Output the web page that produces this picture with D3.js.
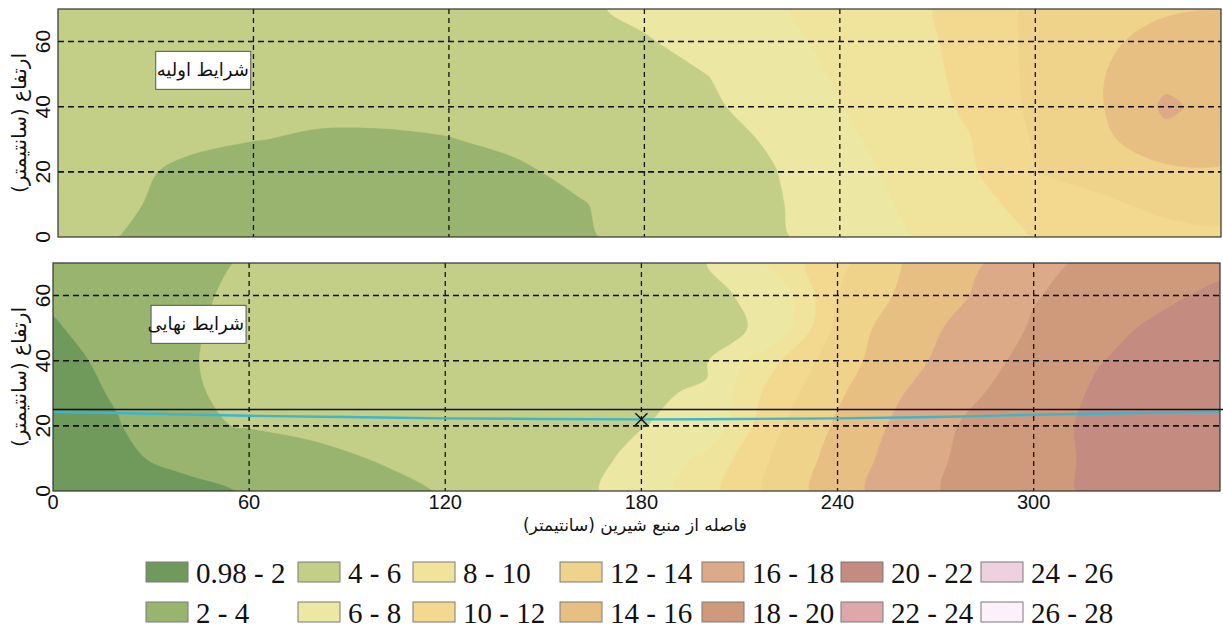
<!DOCTYPE html>
<html>
<head>
<meta charset="utf-8">
<script src="https://cdn.jsdelivr.net/npm/d3@7"></script>
<style>
body { margin: 0; background: #fff; }
</style>
</head>
<body>
<svg id="chart" width="1223" height="632"></svg>
<script>
var xTicks = [0, 60, 120, 180, 240, 300];
var yTicks = [0, 20, 40, 60];
var gridXs = [0, 20, 40, 60, 80, 100, 120, 140, 160, 180, 200, 220, 240, 260, 280, 300, 320, 340, 360];
var gridYs = [0, 10, 20, 30, 40, 50, 60, 70];

var levels = [0.98, 2, 4, 6, 8, 10, 12, 14, 16, 18, 20, 22, 24, 26, 28];
var levelLabels = ["0.98 - 2", "2 - 4", "4 - 6", "6 - 8", "8 - 10", "10 - 12", "12 - 14",
                   "14 - 16", "16 - 18", "18 - 20", "20 - 22", "22 - 24", "24 - 26", "26 - 28"];
var levelColors = ["#6f9a5c", "#98b46f", "#c3cf87", "#ece7a2", "#f0e49c", "#f2d98f", "#f0d38a",
                   "#e8bf82", "#dcaa86", "#cf9a7b", "#c48b80", "#dea8ab", "#eed0de", "#fcf0fa"];

// rows go from height 0 (first) to height 70 (last)
var initialField = [
	[4.6, 3.95, 3.3, 3.0, 2.9, 2.9, 3.0, 3.3, 3.8, 4.46, 5.11, 5.77, 6.74, 7.89, 9.0, 10.1, 10.8, 11.3, 11.5],
	[4.7, 4.25, 3.4, 3.0, 2.8, 2.8, 2.9, 3.3, 3.9, 4.57, 5.2, 5.83, 6.93, 8.2, 9.44, 10.58, 11.6, 12.5, 12.9],
	[4.8, 4.4, 3.65, 3.1, 2.8, 2.7, 2.9, 3.75, 4.35, 4.88, 5.41, 5.94, 7.22, 8.51, 9.71, 11.95, 12.8, 13.5, 13.7],
	[4.9, 4.7, 4.35, 4.05, 3.8, 3.8, 3.95, 4.3, 4.65, 5.0, 5.4, 6.22, 7.6, 8.8, 9.94, 12.2, 13.5, 15.5, 14.9],
	[5.0, 4.9, 4.7, 4.55, 4.4, 4.4, 4.5, 4.8, 5.1, 5.4, 5.75, 6.7, 7.94, 9.04, 10.3, 12.43, 13.85, 16.3, 15.2],
	[5.1, 5.05, 4.95, 4.85, 4.8, 4.8, 4.9, 5.1, 5.35, 5.6, 6.02, 7.13, 8.22, 9.2, 10.47, 12.48, 13.86, 15.5, 15.3],
	[5.2, 5.15, 5.1, 5.05, 5.0, 5.0, 5.1, 5.3, 5.55, 5.85, 6.63, 7.54, 8.43, 9.33, 10.59, 12.47, 13.65, 14.6, 14.8],
	[5.3, 5.25, 5.2, 5.15, 5.1, 5.1, 5.2, 5.4, 5.7, 6.39, 7.1, 7.82, 8.61, 9.43, 10.71, 12.4, 13.2, 13.8, 13.9]
];

var finalField = [
	[1.0, 1.3, 1.6, 2.1, 2.77, 3.44, 4.13, 4.84, 5.56, 6.78, 9.27, 12.52, 15.1, 17.2, 18.56, 19.44, 20.3, 20.8, 21.1],
	[1.2, 1.75, 2.35, 2.94, 3.54, 4.11, 4.6, 5.09, 5.58, 6.29, 8.53, 12.12, 14.78, 16.89, 18.46, 19.42, 20.3, 20.8, 21.1],
	[1.2, 1.88, 3.76, 4.09, 4.4, 4.71, 5.02, 5.33, 5.64, 5.96, 6.4, 11.49, 14.29, 16.54, 18.27, 19.33, 20.4, 20.9, 21.2],
	[1.0, 2.24, 3.9, 4.18, 4.46, 4.74, 5.01, 5.29, 5.57, 5.9, 6.08, 10.77, 13.71, 15.96, 17.66, 19.02, 20.25, 20.8, 21.2],
	[1.35, 2.53, 3.94, 4.19, 4.44, 4.7, 4.95, 5.21, 5.46, 5.72, 5.9, 9.5, 13.16, 15.3, 17.09, 18.62, 19.94, 20.6, 21.0],
	[1.84, 2.77, 3.92, 4.16, 4.4, 4.64, 4.88, 5.12, 5.37, 5.61, 5.9, 6.06, 12.59, 15.23, 16.48, 18.21, 19.46, 20.4, 20.8],
	[2.25, 2.95, 3.88, 4.13, 4.38, 4.63, 4.89, 5.14, 5.39, 5.64, 5.9, 6.14, 11.98, 14.38, 15.96, 17.87, 18.81, 19.68, 20.5],
	[2.6, 3.0, 3.79, 4.07, 4.34, 4.61, 4.89, 5.16, 5.43, 5.71, 5.98, 8.52, 11.43, 14.02, 15.53, 17.41, 18.5, 19.1, 19.5]
];

var surfaceX = [0, 30, 60, 90, 120, 150, 180, 210, 240, 270, 300, 330, 357];
var surfaceY = [24.3, 23.7, 23.1, 22.7, 22.3, 22.1, 22.0, 22.1, 22.3, 22.7, 23.4, 23.9, 24.4];
var refHeight = 25;
var markerPoint = [180, 22];

var panelTitles = ["شرایط اولیه", "شرایط نهایی"];
var xTitle = "فاصله از منبع شیرین (سانتیمتر)";
var yTitle = "ارتفاع (سانتیمتر)";

var sansFont = "'Liberation Sans', Arial, sans-serif";
var serifFont = "'Liberation Serif', 'Times New Roman', 'DejaVu Serif', serif";
var arabicFont = "'DejaVu Sans', sans-serif";

var svg = d3.select("#chart");

var panels = [
	{ field: initialField, title: panelTitles[0], left: 58, right: 1221, top: 9, bottom: 237, surface: false },
	{ field: finalField, title: panelTitles[1], left: 53, right: 1220, top: 263, bottom: 491, surface: true }
];

var contours = d3.contours()
				.size([gridXs.length, gridYs.length])
				.thresholds(levels.slice(0, -1));

var stepX = gridXs[1] - gridXs[0];
var stepY = gridYs[1] - gridYs[0];

var ringLine = d3.line().curve(d3.curveCatmullRomClosed.alpha(0.5));

panels.forEach(function(p, pi) {

	var xs = d3.scaleLinear().domain([0, 357]).range([p.left, p.right]);
	var ys = d3.scaleLinear().domain([0, 70]).range([p.bottom, p.top]);

	function gridToPx(pt) {
		return [xs(gridXs[0] + (pt[0] - 0.5) * stepX), ys(gridYs[0] + (pt[1] - 0.5) * stepY)];
	}

	// smooth each contour ring through its vertices
	function bandPath(d) {
		var s = "";
		d.coordinates.forEach(function(poly) {
			poly.forEach(function(ring) {
				s += ringLine(ring.slice(0, -1).map(gridToPx));
			});
		});
		return s;
	}

	svg.append("clipPath")
		.attr("id", "clip" + pi)
		.append("rect")
			.attr("x", p.left)
			.attr("y", p.top)
			.attr("width", p.right - p.left)
			.attr("height", p.bottom - p.top);

	var g = svg.append("g").attr("clip-path", "url(#clip" + pi + ")");

	g.selectAll("path.band")
		.data(contours(p.field.flat()))
		.enter()
			.append("path")
			.attr("class", "band")
			.attr("d", bandPath)
			.attr("fill", function(d) { return levelColors[levels.indexOf(d.value)]; })
			.attr("stroke", function(d) { return levelColors[levels.indexOf(d.value)]; })
			.attr("stroke-width", 0.5);

	// grid
	g.selectAll("line.vgrid")
		.data(xTicks.slice(1))
		.enter()
			.append("line")
			.attr("x1", function(d) { return xs(d); })
			.attr("x2", function(d) { return xs(d); })
			.attr("y1", p.top)
			.attr("y2", p.bottom)
			.attr("stroke", "#111")
			.attr("stroke-width", 1.3)
			.attr("stroke-dasharray", "5,4");

	g.selectAll("line.hgrid")
		.data(yTicks.slice(1))
		.enter()
			.append("line")
			.attr("x1", p.left)
			.attr("x2", p.right)
			.attr("y1", function(d) { return ys(d); })
			.attr("y2", function(d) { return ys(d); })
			.attr("stroke", "#111")
			.attr("stroke-width", 1.6)
			.attr("stroke-dasharray", "6,4");

	if (p.surface) {
		var line = d3.line()
					.x(function(d, i) { return xs(d); })
					.y(function(d, i) { return ys(surfaceY[i]); })
					.curve(d3.curveMonotoneX);

		g.append("path")
			.attr("d", line(surfaceX))
			.attr("fill", "none")
			.attr("stroke", "#3db5d0")
			.attr("stroke-width", 2.4);

		var mx = xs(markerPoint[0]), my = ys(markerPoint[1]);
		g.append("path")
			.attr("d", "M" + (mx - 6) + "," + (my - 6) + "L" + (mx + 6) + "," + (my + 6) +
			           "M" + (mx - 6) + "," + (my + 6) + "L" + (mx + 6) + "," + (my - 6))
			.attr("stroke", "#111")
			.attr("stroke-width", 1.4);
	}

	svg.append("rect")
		.attr("x", p.left)
		.attr("y", p.top)
		.attr("width", p.right - p.left)
		.attr("height", p.bottom - p.top)
		.attr("fill", "none")
		.attr("stroke", "#333")
		.attr("stroke-width", 1.2);

	if (p.surface) {
		svg.append("line")
			.attr("x1", p.left)
			.attr("x2", p.right + 3)
			.attr("y1", ys(refHeight))
			.attr("y2", ys(refHeight))
			.attr("stroke", "#111")
			.attr("stroke-width", 1.5);
	}

	// title box
	var bx = xs(30), by = ys(57);
	svg.append("rect")
		.attr("x", bx)
		.attr("y", by)
		.attr("width", 95)
		.attr("height", 38)
		.attr("fill", "#fff")
		.attr("stroke", "#555")
		.attr("stroke-width", 1);
	svg.append("text")
		.attr("x", bx + 93)
		.attr("y", by + 25)
		.attr("text-anchor", "end")
		.attr("font-family", arabicFont)
		.attr("font-size", 18)
		.attr("fill", "#111")
		.text(p.title);

	// y ticks, rotated
	svg.selectAll("text.yt" + pi)
		.data(yTicks)
		.enter()
			.append("text")
			.attr("transform", function(d) { return "translate(50," + ys(d) + ") rotate(-90)"; })
			.attr("text-anchor", "middle")
			.attr("font-family", sansFont)
			.attr("font-size", 21)
			.attr("fill", "#111")
			.text(function(d) { return d; });

	svg.append("text")
		.attr("transform", "translate(26," + ((p.top + p.bottom) / 2) + ") rotate(-90)")
		.attr("text-anchor", "middle")
		.attr("font-family", arabicFont)
		.attr("font-size", 20)
		.attr("fill", "#111")
		.text(yTitle);

	if (pi === 1) {
		svg.selectAll("text.xt")
			.data(xTicks)
			.enter()
				.append("text")
				.attr("x", function(d) { return xs(d); })
				.attr("y", 509)
				.attr("text-anchor", "middle")
				.attr("font-family", sansFont)
				.attr("font-size", 20)
				.attr("fill", "#111")
				.text(function(d) { return d; });

		svg.append("text")
			.attr("x", xs(178))
			.attr("y", 531)
			.attr("text-anchor", "middle")
			.attr("font-family", arabicFont)
			.attr("font-size", 17)
			.attr("fill", "#111")
			.text(xTitle);
	}
});

// legend, two rows, filled column by column
var legendColX = [146, 298, 413, 560, 702, 841, 981];
var legend = svg.append("g");
levelLabels.forEach(function(lab, i) {
	var col = Math.floor(i / 2), row = i % 2;
	var lx = legendColX[col], ly = 562 + row * 40;
	legend.append("rect")
		.attr("x", lx)
		.attr("y", ly)
		.attr("width", 42)
		.attr("height", 20)
		.attr("fill", levelColors[i])
		.attr("stroke", "#7a7a7a")
		.attr("stroke-width", 1);
	legend.append("text")
		.attr("x", lx + 50)
		.attr("y", ly + 21)
		.attr("font-family", serifFont)
		.attr("font-size", 29)
		.attr("fill", "#111")
		.text(lab);
});
</script>
</body>
</html>
